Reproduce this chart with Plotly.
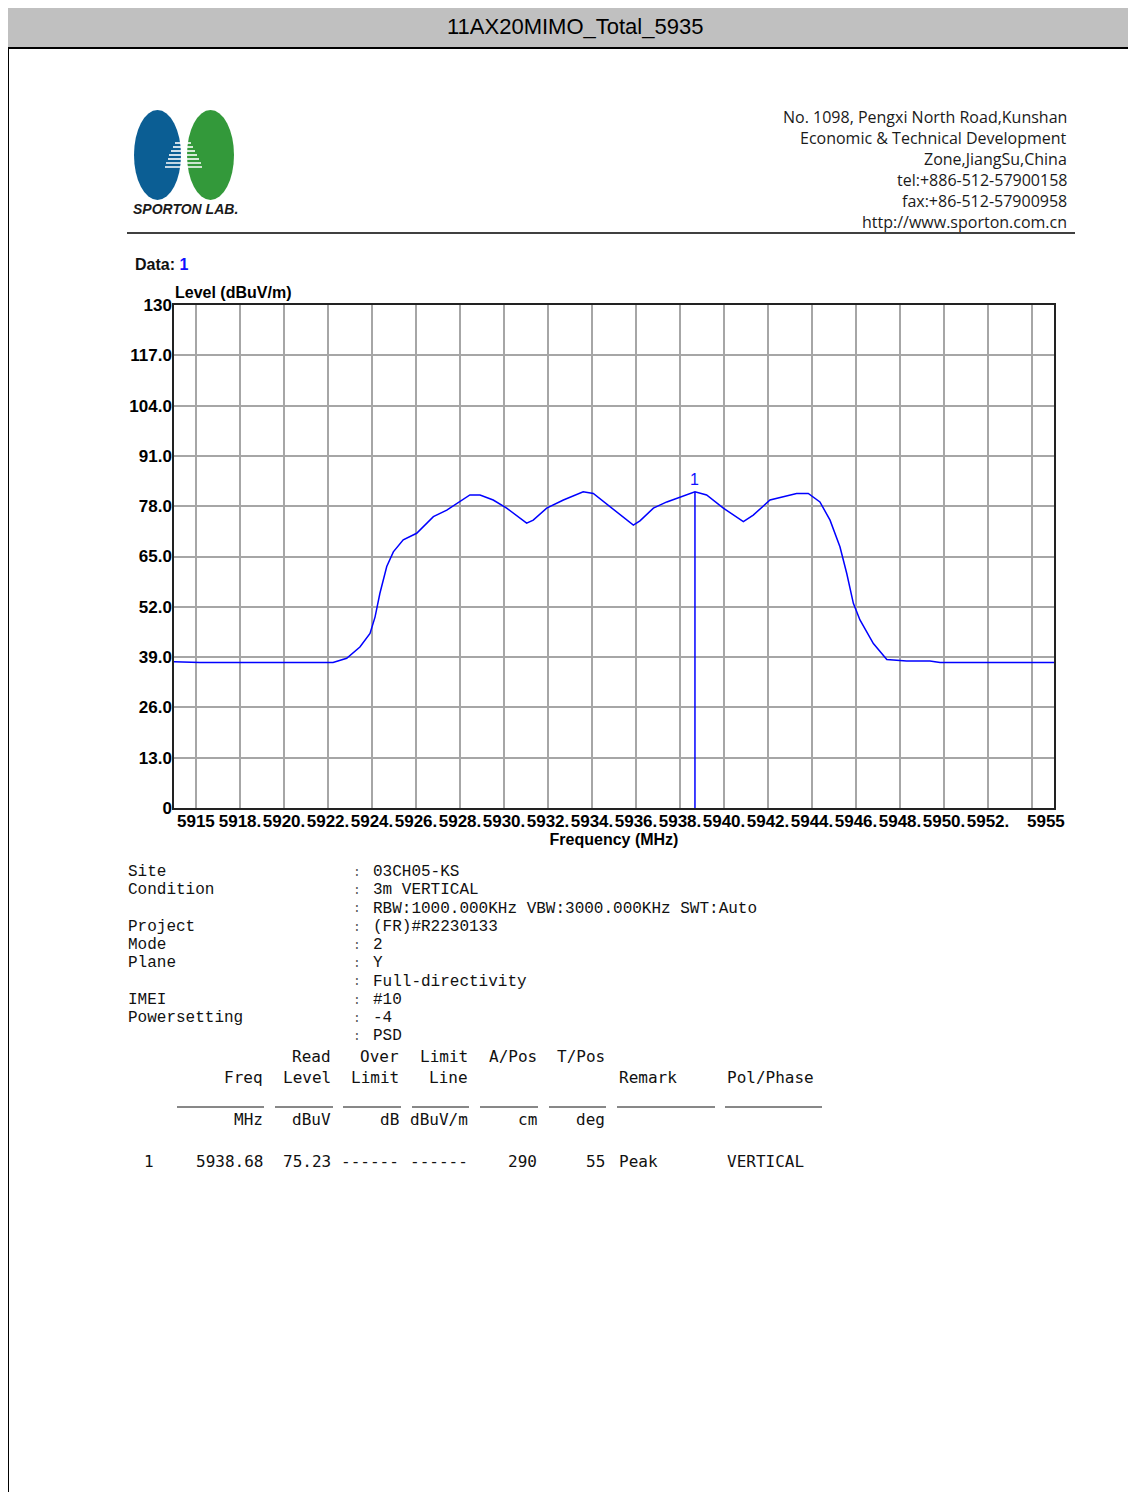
import plotly.graph_objects as go

# ---------------- data ----------------
freq_mhz = [5915.0, 5916.18, 5918.45, 5920.73, 5922.23, 5922.85, 5923.45, 5923.91,
            5924.14, 5924.36, 5924.67, 5924.97, 5925.42, 5926.03, 5926.79, 5927.40,
            5928.00, 5928.45, 5928.91, 5929.51, 5930.12, 5931.03, 5931.33, 5931.94,
            5932.70, 5933.60, 5934.06, 5934.82, 5935.88, 5936.18, 5936.79, 5937.40,
            5938.00, 5938.68, 5939.21, 5939.97, 5940.88, 5941.33, 5942.09, 5942.70,
            5943.30, 5943.83, 5944.36, 5944.82, 5945.27, 5945.58, 5945.88, 5946.18,
            5946.79, 5947.40, 5948.30, 5949.36, 5949.82, 5952.55, 5955.0]
level_dbuvm = [37.8, 37.6, 37.6, 37.6, 37.6, 38.7, 41.6, 45.1,
               49.4, 55.5, 62.4, 66.2, 69.3, 71.0, 75.3, 77.0,
               79.1, 80.9, 80.9, 79.6, 77.5, 73.6, 74.4, 77.5,
               79.6, 81.7, 81.3, 77.9, 73.1, 74.2, 77.5, 79.1,
               80.4, 81.7, 80.9, 77.5, 74.0, 75.7, 79.6, 80.4,
               81.3, 81.3, 79.1, 74.4, 67.5, 60.6, 52.9, 48.6,
               42.5, 38.4, 38.0, 38.0, 37.6, 37.6, 37.6]

marker_freq = [5938.68]
marker_level = [81.7]
marker_label = ["1"]

y_tick_vals = [0, 13, 26, 39, 52, 65, 78, 91, 104, 117, 130]
y_tick_text = ["0", "13.0", "26.0", "39.0", "52.0", "65.0", "78.0", "91.0", "104.0", "117.0", "130"]
x_tick_vals = [5915, 5918, 5920, 5922, 5924, 5926, 5928, 5930, 5932, 5934, 5936,
               5938, 5940, 5942, 5944, 5946, 5948, 5950, 5952, 5955]
x_tick_text = ["5915", "5918.", "5920.", "5922.", "5924.", "5926.", "5928.", "5930.",
               "5932.", "5934.", "5936.", "5938.", "5940.", "5942.", "5944.", "5946.",
               "5948.", "5950.", "5952.", "5955"]

title_text = "11AX20MIMO_Total_5935"
address_lines = ["No. 1098, Pengxi North Road,Kunshan", "Economic & Technical Development",
                 "Zone,JiangSu,China", "tel:+886-512-57900158", "fax:+86-512-57900958",
                 "http://www.sporton.com.cn"]
info_labels = ["Site", "Condition", "", "Project", "Mode", "Plane", "", "IMEI", "Powersetting", ""]
info_values = ["03CH05-KS", "3m VERTICAL", "RBW:1000.000KHz VBW:3000.000KHz SWT:Auto",
               "(FR)#R2230133", "2", "Y", "Full-directivity", "#10", "-4", "PSD"]
tbl_head1 = ["", "Read", "Over", "Limit", "A/Pos", "T/Pos", "", ""]
tbl_head2 = ["Freq", "Level", "Limit", "Line", "", "", "Remark", "Pol/Phase"]
tbl_units = ["MHz", "dBuV", "dB", "dBuV/m", "cm", "deg", "", ""]
tbl_row = ["5938.68", "75.23", "------", "------", "290", "55", "Peak", "VERTICAL"]

# ---------------- layout helpers ----------------
OX, OY = 8, 8
W, H = 1120, 1484


def px(x):
    return (x - OX) / W


def py(y):
    return 1 - (y - OY) / H


fig = go.Figure()
fig.add_trace(go.Scatter(x=freq_mhz, y=level_dbuvm, mode="lines",
                         line=dict(color="#0000ff", width=1.5), hoverinfo="skip",
                         showlegend=False))
fig.add_trace(go.Scatter(x=[marker_freq[0], marker_freq[0]], y=[0, marker_level[0]],
                         mode="lines", line=dict(color="#0000ff", width=1.5),
                         xaxis="x2", showlegend=False, hoverinfo="skip"))

xfont = dict(family="Liberation Sans, Arial", size=17, color="black", weight="bold")
yfont = dict(family="Liberation Sans, Arial", size=17, color="black", weight="bold")
tfont = dict(family="Liberation Sans, Arial", size=16, color="black", weight="bold")
dom_x = [px(174), px(1054)]
dom_y = [py(808), py(305)]

fig.update_layout(
    width=W, height=H,
    margin=dict(l=0, r=0, t=0, b=0, pad=0, autoexpand=False),
    paper_bgcolor="white", plot_bgcolor="white", showlegend=False,
    xaxis=dict(domain=dom_x, range=[5915, 5955], tick0=5916, dtick=2,
               showgrid=True, gridcolor="#a6a6a6", gridwidth=1.5,
               showticklabels=False, ticks="", zeroline=False, automargin=False,
               showline=True, linecolor="#222222", linewidth=1.5, mirror=True),
    xaxis2=dict(overlaying="x", anchor="y", domain=dom_x, range=[5915, 5955], side="bottom",
                tickmode="array", tickvals=x_tick_vals[1:-1], ticktext=x_tick_text[1:-1],
                tickangle=0, showgrid=False, zeroline=False, ticks="", tickfont=xfont,
                ticklabelstandoff=1, automargin=False,
                title=dict(text="Frequency (MHz)", font=tfont, standoff=3)),
    yaxis=dict(domain=dom_y, range=[0, 130], tickmode="array", tickvals=y_tick_vals,
               ticktext=y_tick_text, showgrid=True, gridcolor="#a6a6a6", gridwidth=1.5,
               ticks="", zeroline=False, tickfont=yfont, ticklabelstandoff=-3,
               automargin=False,
               showline=True, linecolor="#222222", linewidth=1.5, mirror=True),
)

shapes = []
annotations = []

# end labels of the frequency axis sit inside the plot edges, as in the original print-out
annotations.append(dict(x=x_tick_vals[0], xref="x", y=py(821), yref="paper",
                        text=x_tick_text[0], showarrow=False, xanchor="left",
                        yanchor="middle", xshift=1, font=xfont))
annotations.append(dict(x=x_tick_vals[-1], xref="x", y=py(821), yref="paper",
                        text=x_tick_text[-1], showarrow=False, xanchor="right",
                        yanchor="middle", xshift=13, font=xfont))

# header bar
shapes.append(dict(type="rect", xref="paper", yref="paper", x0=px(7), x1=px(1140),
                   y0=py(48), y1=py(5), fillcolor="#c0c0c0",
                   line=dict(color="black", width=2), layer="below"))
shapes.append(dict(type="line", xref="paper", yref="paper", x0=px(8), x1=px(8),
                   y0=py(48), y1=py(1500), line=dict(color="black", width=2)))
annotations.append(dict(xref="paper", yref="paper", x=px(575), y=py(27), text=title_text,
                        showarrow=False, xanchor="center", yanchor="middle",
                        font=dict(family="Liberation Sans, Arial", size=22, color="black")))

# logo
shapes.append(dict(type="circle", xref="paper", yref="paper", x0=px(134), x1=px(181),
                   y0=py(200), y1=py(110), fillcolor="#0b5e94", line=dict(width=0)))
shapes.append(dict(type="circle", xref="paper", yref="paper", x0=px(187), x1=px(234),
                   y0=py(200), y1=py(110), fillcolor="#33993a", line=dict(width=0)))
stripe_y = [143, 147, 151, 155, 159, 163, 167]
stripe_l = [175, 173, 171, 169, 168, 166, 165]
stripe_r = [191, 193, 195, 197, 199, 201, 202]
for sy, sl, sr in zip(stripe_y, stripe_l, stripe_r):
    shapes.append(dict(type="line", xref="paper", yref="paper", x0=px(sl), x1=px(sr),
                       y0=py(sy), y1=py(sy), line=dict(color="white", width=1.6)))
annotations.append(dict(xref="paper", yref="paper", x=px(131), y=py(209),
                        text="<b><i>SPORTON LAB.</i></b>", showarrow=False,
                        xanchor="left", yanchor="middle",
                        font=dict(family="Liberation Sans, Arial", size=14, color="#1a1a1a")))

# address
for i, line in enumerate(address_lines):
    annotations.append(dict(xref="paper", yref="paper", x=px(1069), y=py(117 + 21 * i),
                            text=line, showarrow=False, xanchor="right", yanchor="middle",
                            font=dict(family="Open Sans", size=16, color="#1a1a1a")))
shapes.append(dict(type="line", xref="paper", yref="paper", x0=px(127), x1=px(1075),
                   y0=py(233), y1=py(233), line=dict(color="#404040", width=2)))

# Data label & axis title
annotations.append(dict(xref="paper", yref="paper", x=px(133), y=py(264),
                        text="<b>Data: <span style='color:#1010ff'>1</span></b>",
                        showarrow=False, xanchor="left", yanchor="middle",
                        font=dict(family="Liberation Sans, Arial", size=16, color="#111111")))
annotations.append(dict(xref="paper", yref="paper", x=px(173), y=py(293),
                        text="<b>Level (dBuV/m)</b>", showarrow=False,
                        xanchor="left", yanchor="middle",
                        font=dict(family="Liberation Sans, Arial", size=16, color="black")))

# marker label
for mf, ml, mt in zip(marker_freq, marker_level, marker_label):
    annotations.append(dict(x=mf, y=ml, xref="x", yref="y", text=mt, showarrow=False,
                            yshift=12, xanchor="center", yanchor="middle",
                            font=dict(family="Liberation Sans, Arial", size=16, color="#1010ff")))

# info block
mono1 = dict(family="Liberation Mono, Courier New", size=16, color="#111111")
info_y = [872, 890, 909, 927, 945, 963, 982, 1000, 1018, 1036]
for lab, val, yy in zip(info_labels, info_values, info_y):
    if lab:
        annotations.append(dict(xref="paper", yref="paper", x=px(126), y=py(yy), text=lab,
                                showarrow=False, xanchor="left", yanchor="middle", font=mono1))
    annotations.append(dict(xref="paper", yref="paper", x=px(357), y=py(yy), text=":",
                            showarrow=False, xanchor="center", yanchor="middle",
                            font=dict(family="Liberation Mono", size=13, color="#555555")))
    annotations.append(dict(xref="paper", yref="paper", x=px(371), y=py(yy), text=val,
                            showarrow=False, xanchor="left", yanchor="middle", font=mono1))

# result table
mono2 = dict(family="DejaVu Sans Mono, Consolas", size=16, color="#111111")
col_right = [265, 333, 401, 470, 539, 607, 617, 725]
col_left_flag = [False, False, False, False, False, False, True, True]


def put_row(items, yy):
    for s, xr, lf in zip(items, col_right, col_left_flag):
        if not s:
            continue
        annotations.append(dict(xref="paper", yref="paper", x=px(xr), y=py(yy), text=s,
                                showarrow=False, xanchor="left" if lf else "right",
                                yanchor="middle", font=mono2))


put_row(tbl_head1, 1056)
put_row(tbl_head2, 1077)
put_row(tbl_units, 1119)
put_row(tbl_row, 1161)
annotations.append(dict(xref="paper", yref="paper", x=px(156), y=py(1161), text="1",
                        showarrow=False, xanchor="right", yanchor="middle", font=mono2))
seg = [(177, 264), (275, 333), (343, 401), (412, 469), (480, 538), (549, 606),
       (617, 715), (725, 822)]
for a, b in seg:
    shapes.append(dict(type="line", xref="paper", yref="paper", x0=px(a), x1=px(b),
                       y0=py(1107), y1=py(1107), line=dict(color="#111111", width=1)))

fig.update_layout(shapes=shapes, annotations=annotations)
fig.write_html("out.html")
